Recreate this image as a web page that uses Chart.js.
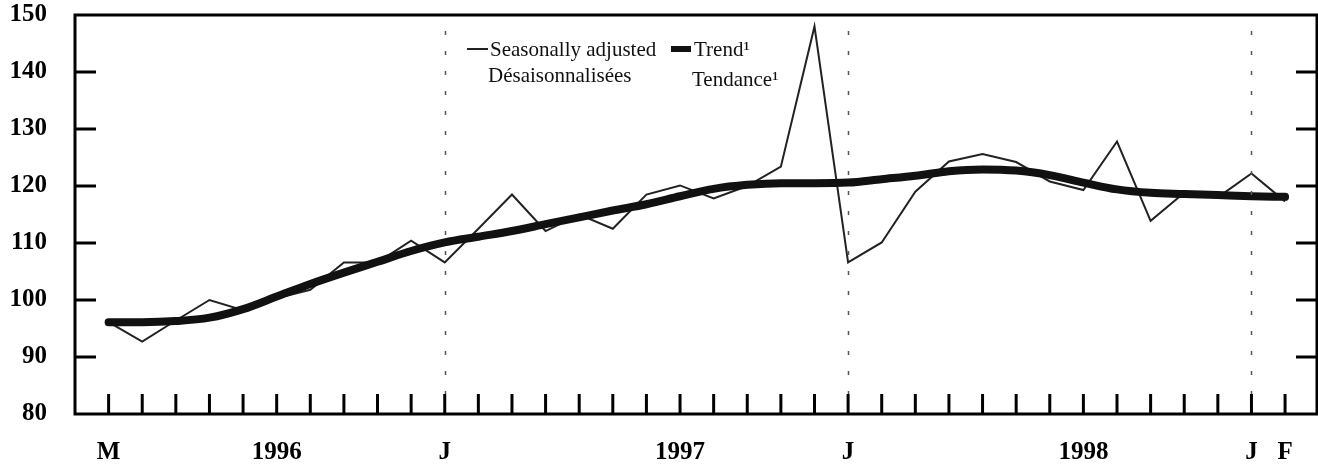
<!DOCTYPE html>
<html>
<head>
<meta charset="utf-8">
<script src="https://cdn.jsdelivr.net/npm/chart.js@4"></script>
<style>
  html, body { margin: 0; padding: 0; background: #fff; }
  #wrap { width: 1318px; height: 464px; position: relative; }
</style>
</head>
<body>
<div id="wrap"><canvas id="c" width="1318" height="464"></canvas></div>
<script>
// Month index 0 = M ... 35 = F
const xTickLabels = {0: 'M', 5: '1996', 10: 'J', 17: '1997', 22: 'J', 29: '1998', 34: 'J', 35: 'F'};
const januaryIdx = [10, 22, 34];
const yTicks = [80, 90, 100, 110, 120, 130, 140, 150];

const seasonallyAdjusted = [
  96.1, 92.7, 96.4, 100.0, 98.2, 100.3, 101.8, 106.6, 106.6, 110.4,
  106.6, 112.5, 118.5, 112.1, 115.0, 112.5, 118.5, 120.1, 117.8, 120.0,
  123.4, 148.0, 106.6, 110.1, 119.0, 124.3, 125.6, 124.2, 120.8, 119.3,
  127.8, 113.9, 118.8, 118.0, 122.2, 117.3
];
const trend = [
  96.1, 96.1, 96.3, 96.9, 98.4, 100.6, 102.8, 104.8, 106.7, 108.6,
  110.1, 111.1, 112.1, 113.3, 114.5, 115.7, 116.8, 118.2, 119.5, 120.2,
  120.5, 120.5, 120.6, 121.2, 121.8, 122.6, 122.9, 122.7, 121.9, 120.6,
  119.4, 118.8, 118.6, 118.4, 118.2, 118.1
];
const legendLabels = ['Seasonally adjusted', 'Désaisonnalisées', 'Trend¹', 'Tendance¹'];

const toXY = arr => arr.map((v, i) => ({x: i, y: v}));

const framePlugin = {
  id: 'frame',
  afterDatasetsDraw(chart) {
    const {ctx, chartArea: a, scales: {x, y}} = chart;
    ctx.save();
    // dotted January lines
    ctx.strokeStyle = '#555';
    ctx.lineWidth = 1.5;
    ctx.setLineDash([4, 16]);
    januaryIdx.forEach(i => {
      const px = Math.round(x.getPixelForValue(i)) + 0.5;
      ctx.beginPath();
      ctx.moveTo(px, a.top + 16);
      ctx.lineTo(px, a.bottom - 20);
      ctx.stroke();
    });
    ctx.setLineDash([]);
    // frame
    ctx.strokeStyle = '#000';
    ctx.lineWidth = 3;
    ctx.strokeRect(a.left, a.top, a.right - a.left, a.bottom - a.top);
    // y ticks inward, both sides
    yTicks.forEach(v => {
      if (v === 80 || v === 150) return;
      const py = y.getPixelForValue(v);
      ctx.beginPath();
      ctx.moveTo(a.left, py); ctx.lineTo(a.left + 21, py);
      ctx.moveTo(a.right, py); ctx.lineTo(a.right - 21, py);
      ctx.stroke();
    });
    // x ticks inward
    for (let i = 0; i < seasonallyAdjusted.length; i++) {
      const px = x.getPixelForValue(i);
      ctx.beginPath();
      ctx.moveTo(px, a.bottom); ctx.lineTo(px, a.bottom - 20);
      ctx.stroke();
    }
    // legend
    ctx.fillStyle = '#111';
    ctx.font = '21px "Liberation Serif", "Times New Roman", serif';
    ctx.textBaseline = 'alphabetic';
    ctx.textAlign = 'left';
    ctx.strokeStyle = '#222';
    ctx.lineWidth = 2;
    ctx.beginPath(); ctx.moveTo(467, 49); ctx.lineTo(488, 49); ctx.stroke();
    ctx.fillText(legendLabels[0], 490, 56);
    ctx.fillText(legendLabels[1], 488, 82);
    ctx.strokeStyle = '#111';
    ctx.lineWidth = 6;
    ctx.beginPath(); ctx.moveTo(671, 49); ctx.lineTo(691, 49); ctx.stroke();
    ctx.fillText(legendLabels[2], 694, 56);
    ctx.fillText(legendLabels[3], 692, 86);
    ctx.restore();
  }
};

new Chart(document.getElementById('c'), {
  type: 'line',
  data: {
    datasets: [
      {
        label: legendLabels[0],
        data: toXY(seasonallyAdjusted),
        borderColor: '#222',
        borderWidth: 2,
        pointRadius: 0,
        tension: 0,
        order: 2
      },
      {
        label: legendLabels[2],
        data: toXY(trend),
        borderColor: '#111',
        borderWidth: 8,
        borderCapStyle: 'round',
        borderJoinStyle: 'round',
        pointRadius: 0,
        cubicInterpolationMode: 'monotone',
        order: 1
      }
    ]
  },
  options: {
    responsive: false,
    animation: false,
    events: [],
    layout: { padding: { top: 15, right: 1, left: 0, bottom: 0 } },
    plugins: { legend: { display: false }, tooltip: { enabled: false } },
    scales: {
      x: {
        type: 'linear',
        min: -1,
        max: 35.95,
        grid: { display: false, drawTicks: false },
        border: { display: false },
        afterFit(s) { s.height = 50; s.paddingLeft = 0; s.paddingRight = 0; },
        afterBuildTicks(s) {
          s.ticks = [];
          for (let i = 0; i <= 35; i++) s.ticks.push({value: i});
        },
        ticks: {
          autoSkip: false,
          maxRotation: 0,
          padding: 24,
          color: '#000',
          font: { family: '"Liberation Serif", "Times New Roman", serif', size: 25, weight: 'bold' },
          callback: v => xTickLabels[v] || ''
        }
      },
      y: {
        min: 80,
        max: 150,
        grid: { display: false, drawTicks: false },
        border: { display: false },
        afterFit(s) { s.width = 75; s.paddingTop = 0; s.paddingBottom = 0; },
        afterBuildTicks(s) { s.ticks = yTicks.map(v => ({value: v})); },
        ticks: {
          padding: 28,
          color: '#000',
          font: { family: '"Liberation Serif", "Times New Roman", serif', size: 25, weight: 'bold', lineHeight: 1.0 }
        }
      }
    }
  },
  plugins: [framePlugin]
});
</script>
</body>
</html>
